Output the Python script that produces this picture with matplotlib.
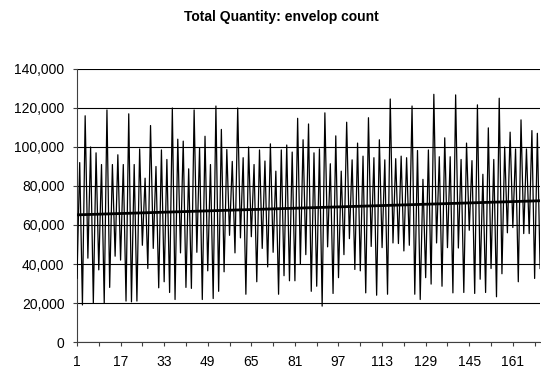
import numpy as np
import matplotlib
matplotlib.use("Agg")
import matplotlib.pyplot as plt
from matplotlib.ticker import FuncFormatter, MultipleLocator

# envelope counts per period, in thousands
ENVELOP_K = [
    32.7, 92, 19, 116, 43, 100, 20, 97, 37, 91,
    20, 119, 28, 91, 44, 96, 42, 91, 21, 117,
    20.6, 91, 21, 99, 49.6, 84, 37.7, 111, 48, 90,
    27.8, 98.5, 30.9, 93.6, 25.4, 120, 21.8, 104, 45.7, 103,
    28, 88.8, 27.5, 119, 46, 99.6, 21.8, 105.5, 36.5, 91,
    22.3, 121, 26, 109, 36, 98.7, 54.7, 92.6, 45.7, 120,
    53.4, 94.5, 24.5, 100, 54, 91, 30.9, 98.5, 48, 92.8,
    38.5, 101.6, 46, 87.6, 24.5, 98.5, 34, 101, 31.4, 97.4,
    31.4, 114.7, 40, 103.7, 44.8, 111.8, 26, 97, 28.6, 99,
    18.4, 117.5, 48.8, 91.4, 24.9, 105.7, 33, 87.6, 44.8, 112.7,
    53, 93.4, 37.2, 102, 36.5, 95.3, 25.2, 115, 49, 94.5,
    24, 103.7, 48.4, 93.4, 24.5, 124.6, 50.8, 94, 50.5, 95.3,
    46.7, 94.5, 49.6, 121, 24.5, 98.2, 21.8, 83.4, 33, 98.5,
    29.7, 127, 50.8, 95, 28.6, 104.7, 48.4, 95, 25.2, 126.7,
    48.2, 93.6, 25.4, 102, 57.3, 93, 24.9, 121.6, 32.2, 86,
    25.4, 109.8, 37.7, 93.6, 23.2, 125, 35, 100, 56, 107.6,
    58.7, 99, 30.9, 113.9, 55.6, 99, 55.6, 108.4, 32.6, 107,
    37.7,
]
PERIODS = np.arange(1, len(ENVELOP_K) + 1)
COUNTS = np.array(ENVELOP_K) * 1000

Y_TICKS = [0, 20000, 40000, 60000, 80000, 100000, 120000, 140000]
X_LABELS = list(range(1, 162, 16))

plt.rcParams["font.family"] = ["Liberation Sans", "DejaVu Sans"]

fig = plt.figure(figsize=(5.41, 3.72), dpi=100)
ax = fig.add_axes([0.1423, 0.0806, 0.856, 0.734])

ax.plot(PERIODS, COUNTS, color="black", linewidth=0.9, zorder=3)

# linear trend
slope, icpt = np.polyfit(PERIODS, COUNTS, 1)
ax.plot(PERIODS, slope * PERIODS + icpt, color="black", linewidth=2.0, zorder=4)

ax.set_xlim(1, PERIODS[-1])
ax.set_ylim(0, 140000)
ax.set_yticks(Y_TICKS)
ax.yaxis.set_major_formatter(FuncFormatter(lambda v, p: f"{int(v):,}"))
ax.grid(axis="y", color="black", linewidth=0.8, zorder=1)

ax.set_xticks(X_LABELS)
ax.set_xticklabels([str(v) for v in X_LABELS])
ax.xaxis.set_minor_locator(MultipleLocator(8))
ax.xaxis.set_minor_locator(matplotlib.ticker.FixedLocator(np.arange(9, PERIODS[-1] + 1, 16)))

for side in ["top", "right"]:
    ax.spines[side].set_visible(False)
for side in ["left", "bottom"]:
    ax.spines[side].set_color("#404040")
    ax.spines[side].set_linewidth(0.8)

ax.tick_params(axis="both", which="both", direction="out", length=3,
               color="#404040", width=0.8, labelsize=10, labelcolor="black")
ax.tick_params(axis="x", which="major", pad=6)
ax.tick_params(axis="y", pad=6)

fig.text(281 / 541, 1 - 17 / 372, "Total Quantity: envelop count",
         ha="center", va="center", fontsize=10, fontweight="bold")

fig.savefig("out.png", dpi=100)
